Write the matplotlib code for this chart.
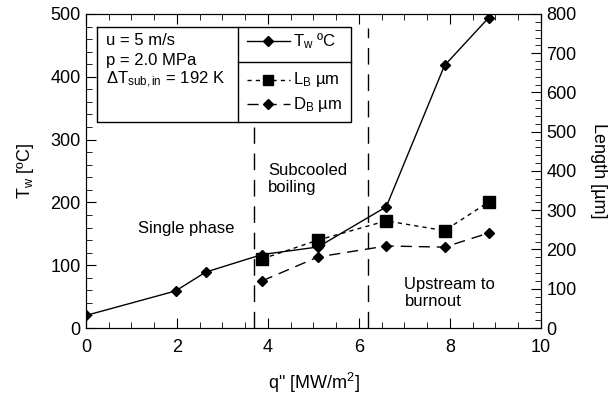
import matplotlib
matplotlib.use('Agg')
import matplotlib.pyplot as plt
from matplotlib.lines import Line2D
from matplotlib.ticker import MultipleLocator

plt.rcParams['font.family'] = ['Liberation Sans', 'DejaVu Sans']
plt.rcParams['mathtext.fontset'] = 'custom'
plt.rcParams['mathtext.rm'] = 'Liberation Sans'
plt.rcParams['mathtext.it'] = 'Liberation Sans'

# wall temperature (left axis)
q_tw = [0.0, 1.97, 2.63, 3.87, 5.1, 6.6, 7.88, 8.85]
tw = [20, 59, 89, 117, 129, 193, 418, 494]

# bubble length / diameter (right axis)
q_b = [3.87, 5.1, 6.6, 7.88, 8.85]
lb = [176, 224, 273, 248, 321]
db = [120, 181, 209, 206, 242]

# regime boundaries: (q, top in left-axis units)
bounds = [(3.7, 320), (6.2, 478)]

fig = plt.figure(figsize=(6.16, 3.96), dpi=100)
ax = fig.add_axes([0.1396, 0.1717, 0.7386, 0.793])
ax2 = ax.twinx()

ax.plot(q_tw, tw, '-', color='black', lw=1.0, marker='D', ms=5.5)
ax2.plot(q_b, lb, color='black', lw=1.0, ls=(0, (3, 3)), marker='s', ms=8)
ax2.plot(q_b, db, color='black', lw=1.0, ls=(0, (8, 5)), marker='D', ms=5.5)

for x, top in bounds:
    ax.plot([x, x], [0, top], color='black', lw=1.0, ls=(0, (12, 7)))

ax.set_xlim(0, 10)
ax.set_ylim(0, 500)
ax2.set_ylim(0, 800)

ax.xaxis.set_major_locator(MultipleLocator(2))
ax.xaxis.set_minor_locator(MultipleLocator(0.5))
ax.yaxis.set_major_locator(MultipleLocator(100))
ax.yaxis.set_minor_locator(MultipleLocator(20))
ax2.yaxis.set_major_locator(MultipleLocator(100))
ax2.yaxis.set_minor_locator(MultipleLocator(20))

ax.tick_params(which='both', direction='in', top=True, labelsize=13, pad=4)
ax.tick_params(axis='x', which='major', pad=8)
ax.tick_params(which='major', length=7)
ax.tick_params(which='minor', length=4)
ax2.tick_params(which='both', direction='in', labelsize=13, pad=4)
ax2.tick_params(which='major', length=7)
ax2.tick_params(which='minor', length=4)

ax.set_xlabel('q" [MW/m$^2$]', fontsize=13, labelpad=11)
ax.set_ylabel('T$_\\mathrm{w}$ [ºC]', fontsize=13, labelpad=10)
ax2.set_ylabel('Length [µm]', fontsize=13, rotation=270, labelpad=22)

ax.text(2.2, 158, 'Single phase', fontsize=12, ha='center', va='center')
ax.text(4.0, 237, 'Subcooled\nboiling', fontsize=12, ha='left', va='center',
        linespacing=1.2)
ax.text(7.0, 56, 'Upstream to\nburnout', fontsize=12, ha='left', va='center',
        linespacing=1.2)

# legend / condition box drawn in axes coordinates
T = ax.transAxes
kw = dict(color='black', lw=1.0, transform=T, clip_on=False)
ax.add_line(Line2D([0.024, 0.582, 0.582, 0.024, 0.024],
                   [0.959, 0.959, 0.656, 0.656, 0.959], **kw))
ax.add_line(Line2D([0.334, 0.334], [0.959, 0.656], **kw))
ax.add_line(Line2D([0.334, 0.582], [0.847, 0.847], **kw))

ax.text(0.044, 0.915, 'u = 5 m/s', transform=T, fontsize=12, va='center')
ax.text(0.044, 0.853, 'p = 2.0 MPa', transform=T, fontsize=12, va='center')
ax.text(0.044, 0.790, '$\\Delta$T$_\\mathrm{sub,in}$ = 192 K', transform=T,
        fontsize=12, va='center')

rows = [(0.915, '-', 'D', 5.5, 'T$_\\mathrm{w}$ ºC'),
        (0.790, (0, (3, 3)), 's', 7, 'L$_\\mathrm{B}$ µm'),
        (0.712, (0, (8, 5)), 'D', 5.5, 'D$_\\mathrm{B}$ µm')]
for y, ls, mk, ms, label in rows:
    ax.add_line(Line2D([0.354, 0.448], [y, y], ls=ls, **kw))
    ax.add_line(Line2D([0.401], [y], marker=mk, ms=ms, ls='none', **kw))
    ax.text(0.456, y, label, transform=T, fontsize=12, va='center')

fig.savefig('out.png', dpi=100)
